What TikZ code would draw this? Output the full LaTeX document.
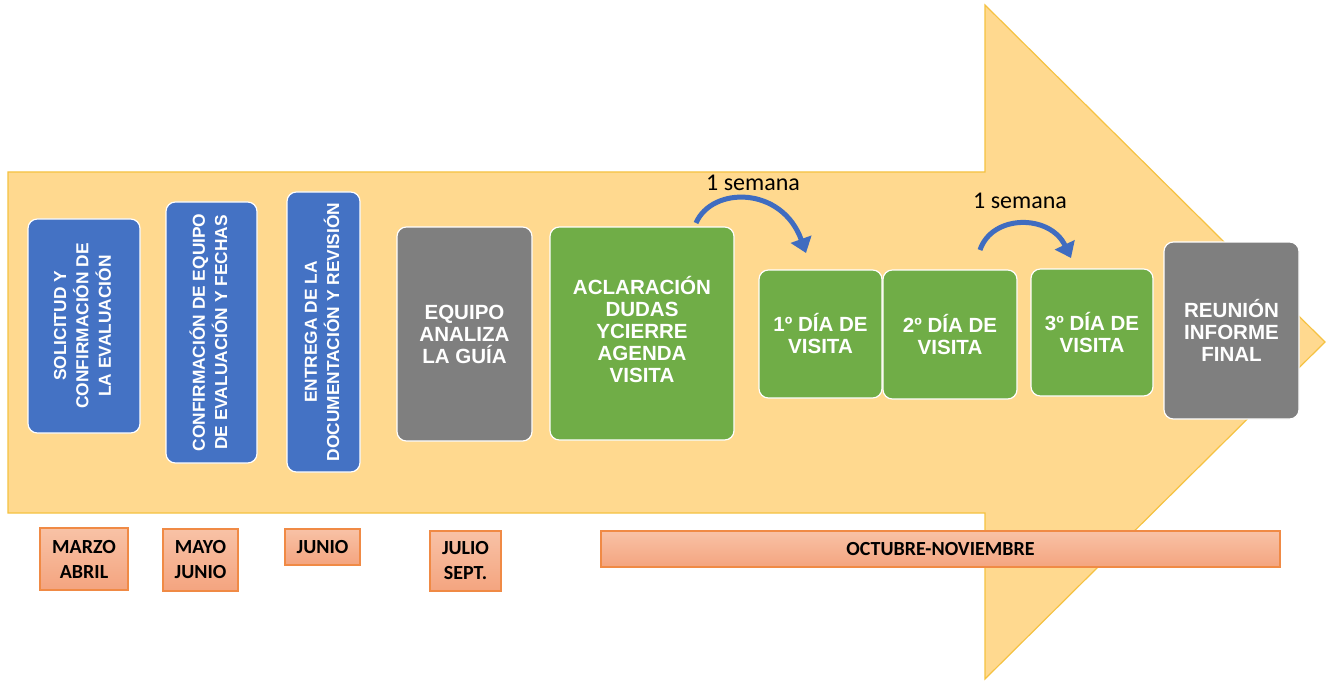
\documentclass[tikz,border=0pt]{standalone}
\usepackage{fontspec}
\setmainfont{Liberation Sans}
\newfontfamily\calib{Carlito}
\usetikzlibrary{arrows.meta}
\definecolor{arrowfill}{HTML}{FFD98F}
\definecolor{arrowline}{HTML}{F5C242}
\definecolor{boxblue}{HTML}{4472C4}
\definecolor{boxgray}{HTML}{7F7F7F}
\definecolor{boxgreen}{HTML}{70AD47}
\definecolor{mtop}{HTML}{F8C2A6}
\definecolor{mbot}{HTML}{F4A47F}
\definecolor{mline}{HTML}{F08A45}
\definecolor{curvblue}{HTML}{3F6CC0}
\tikzset{
  card/.style={draw=white, line width=0.9pt, rounded corners=7pt, text=white, align=center, inner sep=0pt,
    font=\fontsize{15.4}{16.5}\selectfont\bfseries},
  bluecard/.style={card, fill=boxblue},
  graycard/.style={card, fill=boxgray},
  greencard/.style={card, fill=boxgreen},
  month/.style={draw=mline, line width=0.8pt, top color=mtop, bottom color=mbot, align=center, inner sep=0pt,
    font=\calib\bfseries\fontsize{15}{18.75}\selectfont},
  weeklabel/.style={font=\calib\fontsize{18}{20}\selectfont, text=black, inner sep=0pt},
  curv/.style={draw=curvblue, line width=3.75pt, -{Triangle[width=16pt,length=11pt]}}
}
\newcommand\vlines[1]{\rotatebox{90}{\fontsize{13}{16.8}\selectfont\bfseries\begin{tabular}{@{}c@{}}#1\end{tabular}}}
\begin{document}
\begin{tikzpicture}[x=0.75pt,y=-0.75pt]
\useasboundingbox (0,0) rectangle (1328,681);
% big arrow
\fill[white] (0,0) rectangle (1328,681);
\draw[fill=arrowfill, draw=arrowline, line width=0.9pt]
  (8,172) -- (985,172) -- (985,5) -- (1325,342) -- (985,679) -- (985,513) -- (8,513) -- cycle;
% blue cards
\node[bluecard, minimum width=112*0.75pt, minimum height=214*0.75pt] (b1) at (84,326)
  {\vlines{SOLICITUD Y\\CONFIRMACIÓN DE\\LA EVALUACIÓN}};
\node[bluecard, minimum width=91*0.75pt, minimum height=261*0.75pt] (b2) at (211.5,332.5)
  {\vlines{CONFIRMACIÓN DE EQUIPO\\DE EVALUACIÓN Y FECHAS}};
\node[bluecard, minimum width=73*0.75pt, minimum height=280*0.75pt] (b3) at (323.5,332)
  {\vlines{ENTREGA DE LA\\DOCUMENTACIÓN Y REVISIÓN}};
% gray and green cards
\node[graycard, minimum width=135*0.75pt, minimum height=214*0.75pt] (g1) at (464.5,334)
  {EQUIPO\\ANALIZA\\LA GUÍA};
\node[greencard, minimum width=184*0.75pt, minimum height=213*0.75pt] (a1) at (642,333.5)
  {ACLARACIÓN\\DUDAS\\YCIERRE\\AGENDA\\VISITA\\[-10pt]};
\node[greencard, minimum width=123*0.75pt, minimum height=128*0.75pt] (d1) at (820.5,334)
  {1º DÍA DE\\VISITA};
\node[greencard, minimum width=134*0.75pt, minimum height=129*0.75pt] (d2) at (950,334.5)
  {2º DÍA DE\\VISITA};
\node[greencard, minimum width=122*0.75pt, minimum height=127*0.75pt] (d3) at (1092,332.5)
  {3º DÍA DE\\VISITA};
\node[graycard, minimum width=135*0.75pt, minimum height=177*0.75pt] (r1) at (1231.5,330.5)
  {REUNIÓN\\INFORME\\FINAL};
% months
\node[month, minimum width=88*0.75pt, minimum height=62*0.75pt] (m1) at (84,559) {MARZO\\ABRIL};
\node[month, minimum width=75*0.75pt, minimum height=62*0.75pt] (m2) at (200.5,560) {MAYO\\JUNIO};
\node[month, minimum width=75*0.75pt, minimum height=36*0.75pt] (m3) at (322.5,547) {JUNIO};
\node[month, minimum width=71*0.75pt, minimum height=60*0.75pt] (m4) at (465.5,561) {JULIO\\SEPT.};
\node[month, minimum width=679*0.75pt, minimum height=36*0.75pt] (m5) at (940.5,549) {OCTUBRE-NOVIEMBRE};
% week labels and curved arrows
\node[weeklabel] (s1) at (753,183) {1 semana};
\node[weeklabel] (s2) at (1020,201) {1 semana};
\coordinate (c1s) at (696,223);
\coordinate (c1e) at (806,253);
\coordinate (c2s) at (980,250);
\coordinate (c2e) at (1071,258);
\draw[curv] (c1s) .. controls (712,186) and (782,186) .. (c1e);
\draw[curv] (c2s) .. controls (992,214) and (1050,214) .. (c2e);
\end{tikzpicture}
\end{document}
